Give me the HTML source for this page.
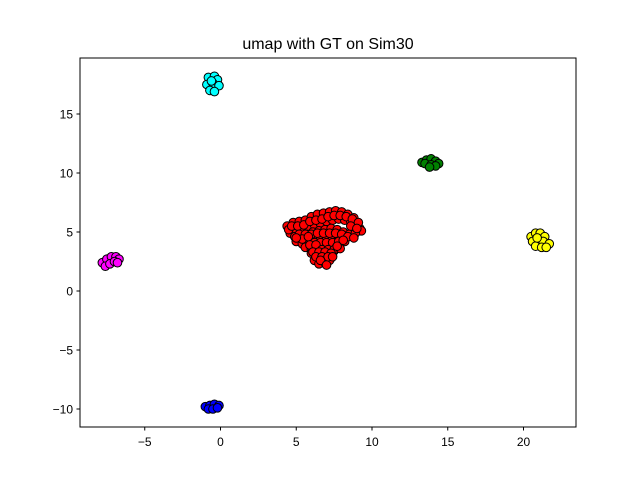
<!DOCTYPE html>
<html><head><meta charset="utf-8"><style>
body{margin:0;background:#fff}
svg{font-family:"Liberation Sans","DejaVu Sans",sans-serif}
</style></head><body>
<svg id="c" width="640" height="480" xmlns="http://www.w3.org/2000/svg">
<rect width="640" height="480" fill="#fff"/>
<text x="328" y="49" text-anchor="middle" font-size="16">umap with GT on Sim30</text>
<g id="pts"></g>
<rect x="80" y="58" width="496" height="369" fill="none" stroke="#000" stroke-width="1"/>
<g id="ax"></g>
</svg>
<script>
const xTicks=[-5,0,5,10,15,20];
const yTicks=[-10,-5,0,5,10,15];
const redX=[4.4,4.8,5.2,5.6,6,6.4,6.8,7.2,7.6,8,8.4,8.8,9.2,4.6,5,5.4,5.8,6.2,6.6,7,7.4,7.8,8.2,8.6,9,9.3,4.5,4.9,5.3,5.7,6.1,6.5,6.9,7.3,7.7,8.1,8.5,8.9,5,5.4,5.8,6.2,6.6,7,7.4,7.8,8.2,5.6,6,6.4,6.8,7.2,7.6,6,6.4,6.8,7.2,7.5,6.2,6.6,7,7.3,6.5,6.9,7.2,
 4.7,5.1,5.5,5.9,6.3,6.7,7.1,7.5,7.9,8.3,8.7,9.1,5.2,5.6,6,6.4,6.8,7.2,7.6,8,8.4,8.8,5.4,5.8,6.2,6.6,7,7.4,7.8,8.1,5.9,6.3,6.7,7.1,7.5,7.9,6.1,6.5,6.9,7.3,7.7,6.3,6.7,7.1,7.4,6.6,7,5,8.6,9];
const redY=[5.5,5.8,5.9,6,6.3,6.5,6.6,6.7,6.8,6.7,6.5,6.2,5.3,4.9,5.2,5.1,5.4,5.6,5.7,5.9,6,6.1,6,5.9,5.6,5.1,5.2,4.6,4.5,4.8,5,5.1,5.2,5.3,5.2,5,4.8,4.9,4.2,4,4.3,4.5,4.6,4.4,4.5,4.6,4.2,3.7,3.5,3.8,3.9,3.7,4,3.2,3,3.3,3.1,3.4,2.6,2.5,2.7,2.8,2.3,2.4,2.6,
 5.5,5.5,5.6,5.9,6,6.1,6.3,6.4,6.4,6.3,6.1,5.8,4.8,4.8,4.8,4.9,4.9,4.9,4.9,4.8,4.6,4.5,4.4,4.6,4.1,4.1,4.1,4.1,4.2,4.3,3.9,3.9,3.5,3.5,3.5,3.6,3.3,3.3,3.3,3.2,3.8,2.9,2.9,2.9,2.9,2.6,2.2,4.5,5.5,5.3];
const cyanX=[-0.8,-0.4,-0.2,-0.9,-0.5,-0.1,-0.7,-0.4,-0.6];
const cyanY=[18.1,18.2,17.9,17.5,17.6,17.4,17,16.9,17.8];
const greenX=[13.3,13.6,13.9,14.2,14.4,13.5,13.9,14.2,13.8];
const greenY=[10.9,11.1,11.2,11,10.8,10.8,10.7,10.6,10.5];
const yellowX=[20.5,20.8,21.1,21.4,20.6,21,21.3,21.7,20.8,21.2,21.5,20.9];
const yellowY=[4.6,4.9,4.9,4.6,4.2,4.3,4.2,4,3.8,3.7,3.7,4.5];
const magX=[-7.8,-7.5,-7.2,-6.9,-6.7,-7.6,-7.3,-7,-6.8];
const magY=[2.4,2.7,2.9,2.9,2.7,2.1,2.3,2.5,2.4];
const blueX=[-1,-0.7,-0.4,-0.1,-0.8,-0.5,-0.2];
const blueY=[-9.8,-9.7,-9.6,-9.7,-10,-10,-9.9];
const X=v=>220.5+v*15.15;
const Y=v=>291-v*11.8;
const NS="http://www.w3.org/2000/svg";
const pts=document.getElementById('pts'),ax=document.getElementById('ax');
function series(xs,ys,col,name){
  for(let i=0;i<xs.length;i++){
    const c=document.createElementNS(NS,'circle');
    c.setAttribute('cx',X(xs[i]));c.setAttribute('cy',Y(ys[i]));c.setAttribute('r',4.3);
    c.setAttribute('fill',col);c.setAttribute('stroke','#000');c.setAttribute('stroke-width',1);
    
    
    pts.appendChild(c);
  }
}
series(redX,redY,'#ff0000','red-cluster');
series(cyanX,cyanY,'#00ffff','cyan-cluster');
series(greenX,greenY,'#008000','green-cluster');
series(yellowX,yellowY,'#ffff00','yellow-cluster');
series(magX,magY,'#ff00ff','magenta-cluster');
series(blueX,blueY,'#0000ff','blue-cluster');
xTicks.forEach(t=>{
  const l=document.createElementNS(NS,'line');
  l.setAttribute('x1',X(t));l.setAttribute('x2',X(t));l.setAttribute('y1',427);l.setAttribute('y2',430.5);l.setAttribute('stroke','#000');
  
  
  ax.appendChild(l);
  const s=document.createElementNS(NS,'text');
  s.setAttribute('x',X(t));s.setAttribute('y',446);s.setAttribute('text-anchor','middle');s.setAttribute('font-size','12');
  s.textContent=t<0?'\u2212'+(-t):String(t);
  
  
  ax.appendChild(s);
});
yTicks.forEach(t=>{
  const l=document.createElementNS(NS,'line');
  l.setAttribute('x1',76.5);l.setAttribute('x2',80);l.setAttribute('y1',Y(t));l.setAttribute('y2',Y(t));l.setAttribute('stroke','#000');
  
  
  ax.appendChild(l);
  const s=document.createElementNS(NS,'text');
  s.setAttribute('x',73);s.setAttribute('y',Y(t)+4.5);s.setAttribute('text-anchor','end');s.setAttribute('font-size','12');
  s.textContent=t<0?'\u2212'+(-t):String(t);
  
  
  ax.appendChild(s);
});
</script>
</body></html>
